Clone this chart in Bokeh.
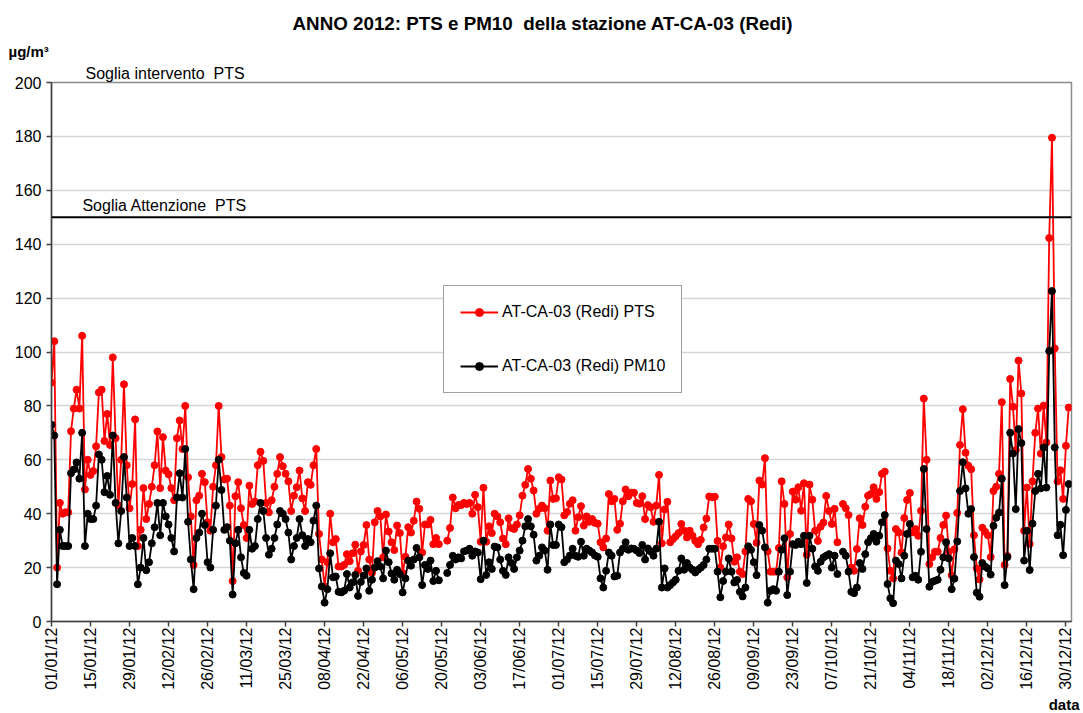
import math
from bokeh.plotting import figure
from bokeh.models import (Range1d, FixedTicker, Span, Legend, LegendItem, ColumnDataSource,
                          Title, Label)
from bokeh.embed import file_html
from bokeh.resources import INLINE

nan = float("nan")

tick_labels = ["01/01/12", "15/01/12", "29/01/12", "12/02/12", "26/02/12", "11/03/12",
               "25/03/12", "08/04/12", "22/04/12", "06/05/12", "20/05/12", "03/06/12",
               "17/06/12", "01/07/12", "15/07/12", "29/07/12", "12/08/12", "26/08/12",
               "09/09/12", "23/09/12", "07/10/12", "21/10/12", "04/11/12", "18/11/12",
               "02/12/12", "16/12/12", "30/12/12"]
y_ticks = [0, 20, 40, 60, 80, 100, 120, 140, 160, 180, 200]

# PTS daily values (µg/m³), 01/01/2012 .. 31/12/2012
pts = [
    88.6, 104, 20, 44, 40, 40.5, 40.5, 70.6, 79, 86, 79, 106, 49, 60, 54.4, 55.8, 65, 85, 86, 67,
    77, 65.5, 98, 68, 43, 60, 88, 58, 42, 51, 75, 28, 34, 49.5, 38, 43.6, 50, 58, 70.5, 49.5,
    68.4, 56, 54.6, 49.5, 45,
    68, 74.6, 64, 80, 53.5, 39, 21, 45, 46.7, 54.8, 51.7, 36.8, 33.7, 50, 58, 80, 61, 52.7, 53, 43,
    15, 46.5, 51.7, 42, 35.8, 31, 50.4, 43.6, 44.5, 58, 63, 59.6, 44, 40.5, 45, 50, 54.8, 61, 57.6,
    54.8, 52, 41, 46.7, 49.8, 56, 45.7,
    41, 51.7, 50.7, 58, 64, 32.5, 23, 13, 22, 40, 29.4, 30.6, 20.4, 20.4, 21, 25, 22.4, 25.3, 28.5,
    18.8, 26, 28.4, 35.8, 23, 18, 36.8, 41, 39, 23.8, 39.7, 33.4, 29.4, 26.5, 35.6, 32.8, 18, 24,
    35, 33, 37.4, 44.5, 41.8, 25.6, 36, 36, 37.7, 28.7,
    31, 28.7, nan, nan, 30, 34.7, 46, 42, 43.2, 43.2, 44, 43.6, 44, 40, 47, 42.4, 29.6, 49.6, 29.6,
    35.3, 32.8, 40, 39, 36.8, 30.8, 28.7, 38.3, 34.7, 34.3, 36, 39.4, 46.7, 50.7, 56.6, 53, 48.6,
    40, 41.8, 43, 42, 33.7, 52.3, 45.5, 45.7, 53.5, 52.7,
    39.4, 40.6, 43.7, 45, 33.7, 38.7, 42.8, 35.6, 39, 37, 38, 36.6, 36.3, 29.4, 27.5, 30.8, 47.3,
    44.6, 45.5, 34, 36.3, 44.6, 49, 46.5, 47.8, 47.8, 44, 43.7, 46.5, 38, 43.2, 42.4, 37, 43, 54.4,
    29, 41.6, 44.4, 29.4, 30.6, 31.6, 32.8, 36.2, 33.7, 31.2, 33.7,
    31.8, 29.9, 28.7, 30.3, 34.9, 38.2, 46.4, 46.1, 46.3, 29.9, 20, 27.9, 31.2, 36, 30.8, 22.2,
    23.8, 18.5, 17.6, 26, 45.5, 44.6, 36.2, 29.2, 52.3, 50.8, 60.6, 26, 18.5, 18.5, 18.5, 27.3, 52,
    43.6, 16.4, 32.5, 48.2, 45.2, 49.8, 41.1, 51.3, 24.8, 50.8, 45.2, 33.7, 29.9, 35.2, 36.7, 46.6,
    41, 36.2, 41.8, 29.4, nan, 43.6, 42, 39.5, 20, 18.8, 26.9, 38.3, 35.8, 42.6, 46.7, 47.3, 49.8,
    45.5, 48, 54.8, 55.6, 27.1, 18.8, 16, 34.3, 33, 25.6, 38.4, 45.1, 47.7, 33.1, 34.3, 31.8, 41.1,
    82.7, 60, 21.3, 23.8, 25.9, 25.9, 31, 35.8, 39.3, 25.9,
    17.2, 26.8, 40.3, 65.5, 78.8, 62.6, 57.8, 56.5, 32, 19.7, 15.6, 34.8, 33.3, 32, 23.9, 48.4, 50,
    54.8, 81.4, 21, 24.3, 90, 79.7, 63.6, 96.8, 84.6, 33.7, 49.7, 28.8, 52, 70, 79, 62.3, 80.1,
    66.5, 142.3, 179.5, 101.3, 52, 56.1, 45.5, 65.2, 79.4,
]

# PM10 daily values (µg/m³)
pm10 = [
    73, 69, 13.8, 34, 28, 28, 28, 55, 56.4, 59, 53, 70, 28, 40, 38, 38, 43, 62, 60, 48, 54, 47, 69,
    44, 29, 41, 61, 46, 28, 31, 28, 13.8, 20, 31, 19, 22, 29, 35, 44, 32, 44, 39, 36, 31, 26,
    46, 55, 46, 64, 37, 23, 12, 31, 33, 40, 35.8, 22, 20, 34, 43, 60, 48.8, 34, 35, 30, 10, 29, 34,
    23.8, 18, 17, 34, 27, 28, 38, 44, 41, 31, 24.8, 27, 31, 36, 41, 40, 38, 33, 23, 28, 31, 38, 32,
    28, 30.6, 29.4, 37.4, 43, 19.7, 13, 7, 12, 25.3, 16.4, 16.7, 11, 10.8, 11.4, 17.6, 12.6, 14.5,
    17.3, 9.5, 14.7, 17, 19.7, 11.4, 15.5, 20, 22.4, 20.4, 16, 26.3, 22, 17.8, 15.5, 19.2, 17.6,
    10.8, 16, 22.6, 20.7, 23, 27.3, 23.8, 13.5, 21, 19.5, 22.6, 15,
    18.8, 15.3, nan, nan, 18, 21, 24.4, 23, 23.8, 23.4, 26, 26.3, 27, 24.4, 26, 25.6, 15.7, 30,
    17.3, 22, 19.5, 27.8, 27.5, 23, 18.8, 17.3, 23.8, 21.7, 19.5, 23.8, 26.3, 30, 35.3, 38, 35.3,
    32.2, 22.6, 24.4, 27.5, 26.3, 19.2, 36, 28.4, 28.4, 36, 35,
    22, 23, 24.5, 27, 24.4, 24, 29.6, 24.4, 27, 26.3, 25.6, 24.5, 24, 16, 12.6, 18.8, 25.6, 24.4,
    16.7, 17, 25.6, 27, 29.4, 26.6, 27.1, 27, 26.3, 25.4, 28.4, 23, 27.1, 26, 24.4, 27, 37, 12.6,
    19.7, 12.6, 13.5, 14.5, 15.5, 18.8, 23.4, 19.2, 21.7, 20,
    19.2, 18.2, 19.2, 20, 21, 23, 27, 27, 27, 18.5, 9, 15, 18.5, 23.4, 18.5, 14.5, 15.4, 11, 9.3,
    12.6, 27.9, 26.6, 22, 17.2, 35.8, 33.7, 27.5, 7, 11.4, 12, 11.4, 18.5, 26.6, 30.9, 9.8, 18.5,
    28.7, 28.4, 29.6, 28.7, 31.8, 14.3, 31.8, 27, 20.4, 18.8, 22.2, 23.8, 24.4,
    25, 20, 24.4, 17.6, nan, 25.9, 24.4, 18.5, 11, 10.5, 12.6, 21.7, 19.5, 25, 29.4, 30.9, 32.5,
    29.6, 31.8, 36.8, 39.5, 13.9, 8.6, 6.8, 22.6, 21.3, 16, 24.4, 32.5, 36.2, 16.4, 17, 15.5, 25.9,
    56.6, 34.3, 12.9, 14.7, 15.1, 15.5, 19.2, 23.8, 29.4, 23.4,
    12, 15.9, 29.7, 48.4, 59.1, 49.4, 40, 41.7, 23.9, 10.7, 9.2, 21.7, 20.4, 19.7, 17.4, 35.5, 38.5,
    40.4, 53, 13.5, 23.9, 70, 62.3, 41.7, 71.4, 66.2, 22.6, 33.7, 19.1, 36.3, 48.4, 54.8, 49.4,
    64.6, 49.7, 100.4, 122.6, 64.6, 32, 35.9, 24.6, 41.4, 51,
]

soglia_attenzione = 150
label_pts = "AT-CA-03 (Redi) PTS"
label_pm10 = "AT-CA-03 (Redi) PM10"
title_text = "ANNO 2012: PTS e PM10\u00a0\u00a0della stazione AT-CA-03 (Redi)"
soglia_int_text = "Soglia intervento\u00a0\u00a0PTS"
soglia_att_text = "Soglia Attenzione\u00a0\u00a0PTS"

FONT = "Liberation Sans"

days = list(range(len(pts)))
src = ColumnDataSource(dict(day=days, pts=pts, pm10=pm10[:len(pts)]))

p = figure(width=1083, height=713, output_backend="svg", toolbar_location=None, title=None,
           x_range=Range1d(0, 366), y_range=Range1d(0, 200),
           min_border_left=51, min_border_right=12, min_border_top=82, min_border_bottom=92)
p.background_fill_color = "white"
p.border_fill_color = "white"
p.outline_line_color = "#8c8c8c"
p.outline_line_width = 1.5

p.xgrid.visible = False
p.ygrid.grid_line_color = "#d6d6d6"
p.ygrid.grid_line_width = 1.5

p.yaxis.ticker = FixedTicker(ticks=y_ticks)
p.xaxis.ticker = FixedTicker(ticks=[14 * i for i in range(len(tick_labels))])
p.xaxis.major_label_overrides = {14 * i: lab for i, lab in enumerate(tick_labels)}
p.xaxis.major_label_orientation = math.pi / 2
for ax in (p.xaxis, p.yaxis):
    ax.axis_line_color = "#404040"
    ax.axis_line_width = 1.5
    ax.major_tick_line_color = "#404040"
    ax.major_tick_line_width = 1.5
    ax.major_tick_out = 5
    ax.major_tick_in = 0
    ax.minor_tick_line_color = None
    ax.major_label_text_font = FONT
    ax.major_label_text_font_size = "16px"
    ax.major_label_text_color = "black"
p.yaxis.major_label_standoff = 5
p.xaxis.major_label_standoff = 1

p.add_layout(Span(location=soglia_attenzione, dimension="width",
                  line_color="black", line_width=1.8))

r_line = p.line("day", "pts", source=src, line_color="#ff0000", line_width=1.8)
r_sc = p.scatter("day", "pts", source=src, size=7, fill_color="#ff0000", line_color="#ff0000")
k_line = p.line("day", "pm10", source=src, line_color="black", line_width=1.8)
k_sc = p.scatter("day", "pm10", source=src, size=7, fill_color="black", line_color="black")

legend = Legend(items=[LegendItem(label=label_pts, renderers=[r_line, r_sc]),
                       LegendItem(label=label_pm10, renderers=[k_line, k_sc])],
                location=(392, 228), orientation="vertical",
                padding=16, spacing=34, label_height=20, glyph_height=20, glyph_width=38,
                label_standoff=4, label_width=163, margin=0,
                label_text_font=FONT, label_text_font_size="16px", label_text_color="black",
                border_line_color="#404040", border_line_width=1.2,
                background_fill_color="white", background_fill_alpha=1.0)
p.add_layout(legend)

# texts outside the frame: stacked titles (first added = closest to the frame)
p.add_layout(Title(text=soglia_int_text, align="left", offset=34, standoff=2,
                   text_font=FONT, text_font_size="16px", text_font_style="normal",
                   text_color="black"), "above")
p.add_layout(Title(text="µg/m³", align="left", offset=-43, standoff=4,
                   text_font=FONT, text_font_size="15px", text_font_style="bold",
                   text_color="black"), "above")
p.add_layout(Title(text=title_text, align="left", offset=241, standoff=9,
                   text_font=FONT, text_font_size="18.8px", text_font_style="bold",
                   text_color="black"), "above")
p.add_layout(Title(text="data", align="right", offset=-8, standoff=2,
                   text_font=FONT, text_font_size="15px", text_font_style="bold",
                   text_color="black"), "below")

# in-frame text
p.add_layout(Label(x=11.1, y=154.4, text=soglia_att_text, text_font=FONT,
                   text_font_size="16px", text_baseline="middle", text_color="black"))

open("out.html", "w").write(file_html(p, INLINE))
